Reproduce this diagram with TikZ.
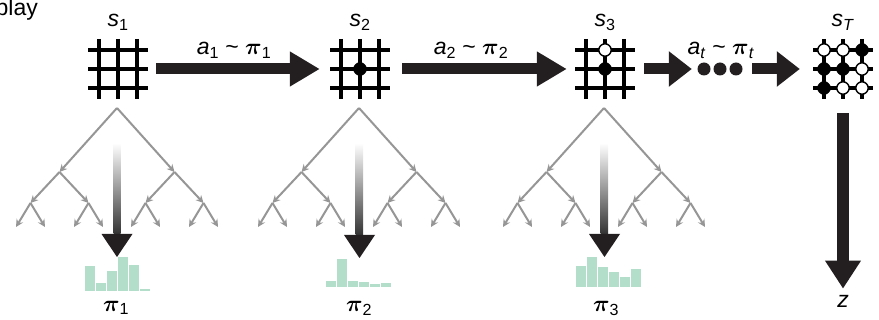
\RequirePackage{fix-cm}
\documentclass[tikz,border=0pt]{standalone}
\usepackage{amsmath}
\usepackage{fontspec}
\setmainfont{Liberation Sans}
\usetikzlibrary{arrows.meta, positioning, calc}

\definecolor{inkblack}{RGB}{35,31,32}
\definecolor{treegray}{RGB}{150,150,150}
\definecolor{barmint}{RGB}{179,222,202}

\begin{document}
\begin{tikzpicture}[x=1pt, y=-1pt, font=\fontsize{23}{27}\selectfont]

  % Styles
  \tikzset{
    board/.style={minimum size=60pt, inner sep=0pt},
    gridline/.style={line width=3.3pt, black},
    black stone/.style={fill=black},
    white stone/.style={fill=white, draw=black, line width=1.4pt},
    flow/.style={inkblack, line width=11pt, -{Triangle[length=30pt, width=33pt]}},
    flow short/.style={inkblack, line width=11pt, -{Triangle[length=23pt, width=34pt]}},
    search/.style={
      level distance=64pt, sibling distance=115pt,
      edge from parent/.style={draw=treegray, line width=2pt, -{Stealth[length=7.5pt, width=7.5pt]}},
      level 2/.style={level distance=31pt, sibling distance=58pt},
      level 3/.style={level distance=24pt, sibling distance=29pt}},
    bar/.style={fill=barmint},
    txt/.style={inner sep=0pt}
  }

  \useasboundingbox (0,0) rectangle (879,320);

  \node[txt, anchor=base west] (play) at (-4.5,16) {play};

  % --- BOARDS ---
  \node[board] (b1) at (118,69) {};
  \node[board] (b2) at (360,69) {};
  \node[board] (b3) at (605,69) {};
  \node[board] (bT) at (843,69) {};
  \foreach \b in {b1,b2,b3,bT}
    \foreach \d in {-19,0,19} {
      \draw[gridline] ($(\b)+(-30,\d)$) -- ($(\b)+(30,\d)$);
      \draw[gridline] ($(\b)+(\d,-30)$) -- ($(\b)+(\d,30)$);
    }
  % Stones
  \filldraw[black stone] (b2) circle (6.5);
  \filldraw[white stone] ($(b3)+(0,-19)$) circle (6.2);
  \filldraw[black stone] (b3) circle (6.5);
  \filldraw[white stone] ($(bT)+(-19,-19)$) circle (6.2);
  \filldraw[white stone] ($(bT)+(0,-19)$) circle (6.2);
  \filldraw[black stone] ($(bT)+(19,-19)$) circle (6.5);
  \filldraw[black stone] ($(bT)+(-19,0)$) circle (6.5);
  \filldraw[black stone] (bT) circle (6.5);
  \filldraw[white stone] ($(bT)+(19,0)$) circle (6.2);
  \filldraw[black stone] ($(bT)+(-19,19)$) circle (6.5);
  \filldraw[white stone] ($(bT)+(0,19)$) circle (6.2);
  \filldraw[white stone] ($(bT)+(19,19)$) circle (6.2);

  % Labels
  \node[txt, anchor=base] (s1) at ($(b1)+(0,-42)$) {\textit{s}\textsubscript{1}};
  \node[txt, anchor=base] (s2) at ($(b2)+(0,-42)$) {\textit{s}\textsubscript{2}};
  \node[txt, anchor=base] (s3) at ($(b3)+(0,-42)$) {\textit{s}\textsubscript{3}};
  \node[txt, anchor=base] (sT) at ($(bT)+(0,-42)$) {\textit{s}\textsubscript{\textit{T}}};

  % --- MOVES ---
  \node[minimum width=45pt, minimum height=13pt, inner sep=0pt] (dots) at (720,69) {};
  \foreach \dx in {-16,0,16}
    \fill[inkblack] ($(dots)+(\dx,0)$) circle (6.5);

  \draw[flow, shorten <=8pt, shorten >=10pt] (b1) -- (b2);
  \draw[flow, shorten <=12pt, shorten >=8pt] (b2) -- (b3);
  \draw[flow short, shorten <=9pt, shorten >=5.5pt] (b3) -- (dots);
  \draw[flow short, shorten <=9.5pt, shorten >=13pt] (dots) -- (bT);

  \node[txt, anchor=base] (a1) at (234,55) {\textit{a}\textsubscript{1} \textasciitilde{} $\boldsymbol{\pi}$\textsubscript{1}};
  \node[txt, anchor=base] (a2) at (471,55) {\textit{a}\textsubscript{2} \textasciitilde{} $\boldsymbol{\pi}$\textsubscript{2}};
  \node[txt, anchor=base] (at) at (721,55) {\textit{a}\textsubscript{\textit{t}} \textasciitilde{} $\boldsymbol{\pi}$\textsubscript{\textit{t}}};

  % --- OUTCOME ---
  \node[txt, anchor=base] (z) at (843,308) {\textit{z}};
  \draw[flow, line width=12pt, -{Triangle[length=28pt, width=34pt]}, shorten <=14pt, shorten >=7pt] (bT) -- (z);

  % --- SEARCH TREES ---
  \path[search] node[coordinate] (t1) at (117,108) {}
    child {child {child {} child {}} child {child {} child {}}}
    child {child {child {} child {}} child {child {} child {}}};
  \path[search] node[coordinate] (t2) at (359,108) {}
    child {child {child {} child {}} child {child {} child {}}}
    child {child {child {} child {}} child {child {} child {}}};
  \path[search] node[coordinate] (t3) at (604,108) {}
    child {child {child {} child {}} child {child {} child {}}}
    child {child {child {} child {}} child {child {} child {}}};

  % --- POLICIES ---
  \coordinate (h1) at (117.5,291);
  \coordinate (h2) at (358.5,287);
  \coordinate (h3) at (608.5,287);
  \foreach \h [count=\i from 0] in {25,8,20,34,26,2}
    \fill[bar] ($(h1)+(-32.5+11*\i,0)$) rectangle ++(10,-\h);
  \foreach \h [count=\i from 0] in {6,28,6,5,3,4}
    \fill[bar] ($(h2)+(-32.5+11*\i,0)$) rectangle ++(10,-\h);
  \foreach \h [count=\i from 0] in {21,30,20,15,10,18}
    \fill[bar] ($(h3)+(-32.5+11*\i,0)$) rectangle ++(10,-\h);

  \coordinate (g1) at (117,257);
  \coordinate (g2) at (359.5,258);
  \coordinate (g3) at (604.5,257);
  \foreach \t/\g in {t1/g1, t2/g2, t3/g3} {
    \shade[top color=white, bottom color=black!80] ($(\t)+(-3.5,35)$) rectangle ($(\g)+(3.5,-23)$);
    \fill[inkblack] ($(\g)+(-15.5,-23)$) -- ($(\g)+(15.5,-23)$) -- (\g) -- cycle;
  }

  \node[txt, anchor=base] (p1) at (116,311.5) {$\boldsymbol{\pi}$\textsubscript{1}};
  \node[txt, anchor=base] (p2) at (359,312) {$\boldsymbol{\pi}$\textsubscript{2}};
  \node[txt, anchor=base] (p3) at (606,312) {$\boldsymbol{\pi}$\textsubscript{3}};

\end{tikzpicture}
\end{document}
